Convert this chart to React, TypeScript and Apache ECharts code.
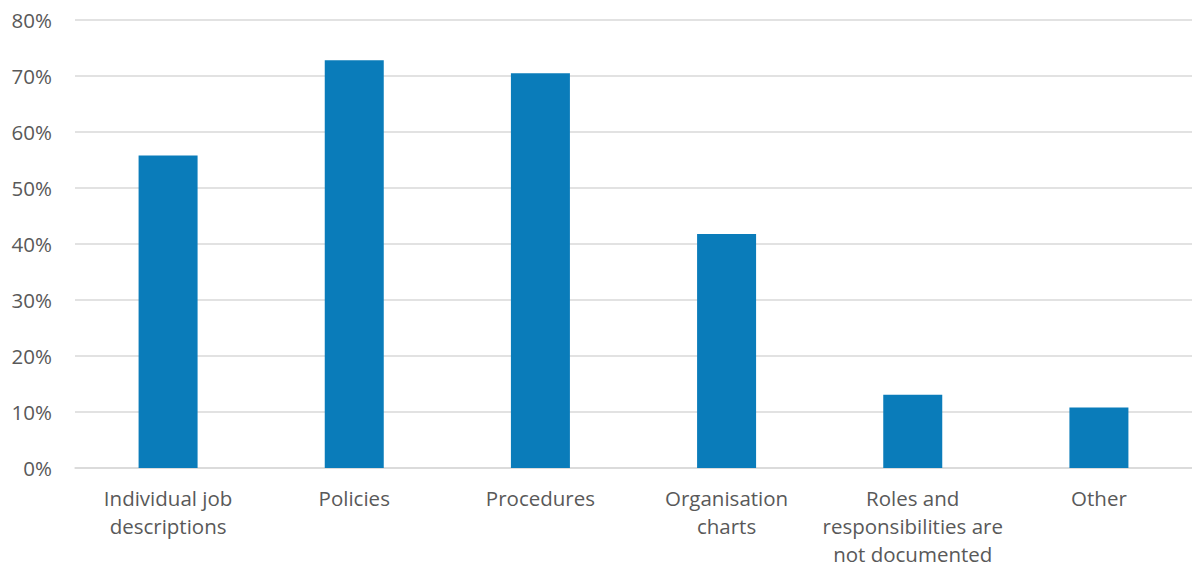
import React, { useEffect, useRef } from "react";
import * as echarts from "echarts";

const categories = [
  "Individual job\ndescriptions",
  "Policies",
  "Procedures",
  "Organisation\ncharts",
  "Roles and\nresponsibilities are\nnot documented",
  "Other",
];

const shares = [55.8, 72.8, 70.5, 41.8, 13.1, 10.8];

const yTicks = { min: 0, max: 80, interval: 10 };

export default function App() {
  const ref = useRef<HTMLDivElement>(null);

  useEffect(() => {
    document.body.style.margin = "0";
    if (!ref.current) return;
    const chart = echarts.init(ref.current, undefined, { renderer: "svg" });
    const font = "'Open Sans', 'Noto Sans', sans-serif";
    chart.setOption({
      animation: false,
      grid: { left: 75, right: 0, top: 20, bottom: 104, containLabel: false },
      xAxis: {
        type: "category",
        data: categories,
        axisLine: { show: true, lineStyle: { color: "#d9d9d9", width: 1.5 } },
        axisTick: { show: false },
        axisLabel: {
          color: "#595959",
          fontFamily: font,
          fontSize: 20.5,
          lineHeight: 28,
          margin: 16,
          interval: 0,
          verticalAlign: "top",
        },
      },
      yAxis: {
        type: "value",
        min: yTicks.min,
        max: yTicks.max,
        interval: yTicks.interval,
        axisLine: { show: false },
        axisTick: { show: false },
        splitLine: { lineStyle: { color: "#d9d9d9", width: 1.5 } },
        axisLabel: {
          color: "#595959",
          fontFamily: font,
          fontSize: 20.5,
          margin: 23,
          formatter: (v: number) => `${v}%`,
        },
      },
      series: [
        {
          type: "bar",
          data: shares,
          barWidth: 59,
          itemStyle: { color: "#0a7cba" },
        },
      ],
    });
    return () => chart.dispose();
  }, []);

  return <div ref={ref} style={{ width: 1192, height: 572 }} />;
}
